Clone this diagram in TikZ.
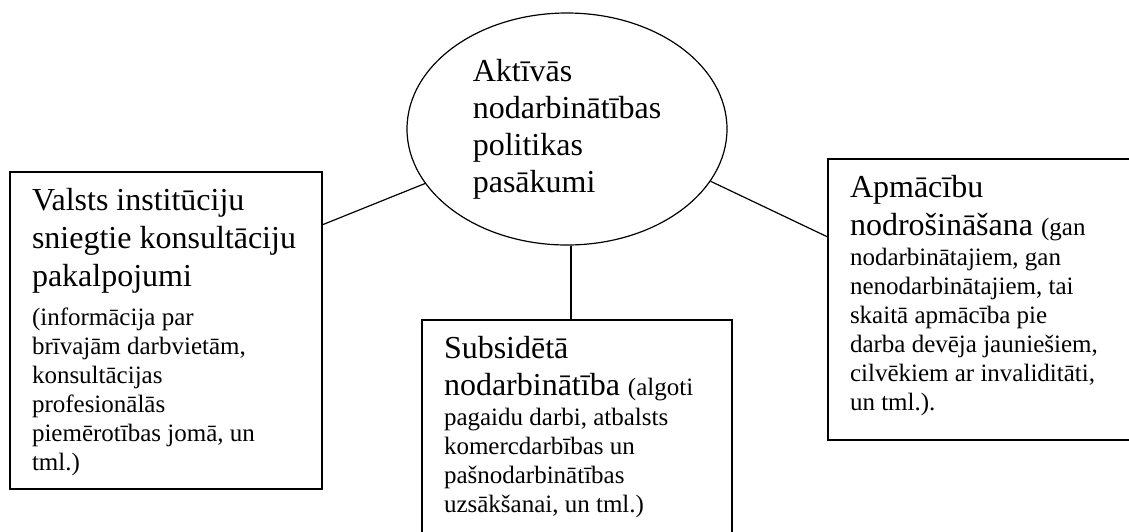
\documentclass[tikz,border=0pt]{standalone}
\usepackage{fontspec}
\setmainfont{Liberation Serif}
\usetikzlibrary{shapes.geometric,calc}

% two text sizes used in the boxes, both on a 29pt grid
\newcommand\lgtext{\fontsize{32pt}{29pt}\selectfont}
\newcommand\smtext{\fontsize{25pt}{29pt}\selectfont}
% top-aligned box body: width, height, text
\newcommand\boxbody[3]{\parbox[t][#2][t]{#1}{\raggedright\vspace*{16pt}#3}}

\begin{document}
\begin{tikzpicture}[x=1pt,y=-1pt,
  panel/.style={draw, line width=1.2pt, anchor=north west,
    inner xsep=22pt, inner ysep=0pt, outer sep=0pt},
  hub/.style={ellipse, draw, line width=1.2pt, minimum width=320pt,
    minimum height=232pt, inner sep=0pt, align=left,
    font=\fontsize{32pt}{37pt}\selectfont},
  link/.style={line width=1.2pt}]
\useasboundingbox (0,0) rectangle (1129,531);

% central ellipse
\node[hub] (E) at (567,129) {Aktīvās\\nodarbinātības\\politikas\\pasākumi};

% left box
\node[panel] (L) at (10,172) {\boxbody{268pt}{317pt}{\lgtext
  Valsts institūciju\\[8pt]
  sniegtie konsultāciju\\[8pt]
  pakalpojumi\\[10pt]
  \smtext (informācija par\\
  brīvajām darbvietām,\\
  konsultācijas\\
  profesionālās\\
  piemērotības jomā, un\\
  tml.)}};

% middle box
\node[panel] (C) at (422,320) {\boxbody{266pt}{216pt}{\lgtext
  Subsidētā\\[8pt]
  nodarbinātība {\smtext (algoti}\\[1pt]
  \smtext pagaidu darbi, atbalsts\\
  komercdarbības un\\
  pašnodarbinātības\\
  uzsākšanai, un tml.)}};

% right box
\node[panel] (R) at (828,159) {\boxbody{259pt}{281pt}{\lgtext
  Apmācību\\[8pt]
  nodrošināšana {\smtext (gan}\\[1pt]
  \smtext nodarbinātajiem, gan\\
  nenodarbinātajiem, tai\\
  skaitā apmācība pie\\
  darba devēja jauniešiem,\\
  cilvēkiem ar invaliditāti,\\
  un tml.).}};

% connectors
\draw[link] ($(L.north east)!0.167!(L.south east)$) -- (E.201);
\draw[link] (E.340) -- ($(R.north west)!0.278!(R.south west)$);
\draw[link] (E.-88) -- (E.-88 |- C.north);
\end{tikzpicture}
\end{document}
